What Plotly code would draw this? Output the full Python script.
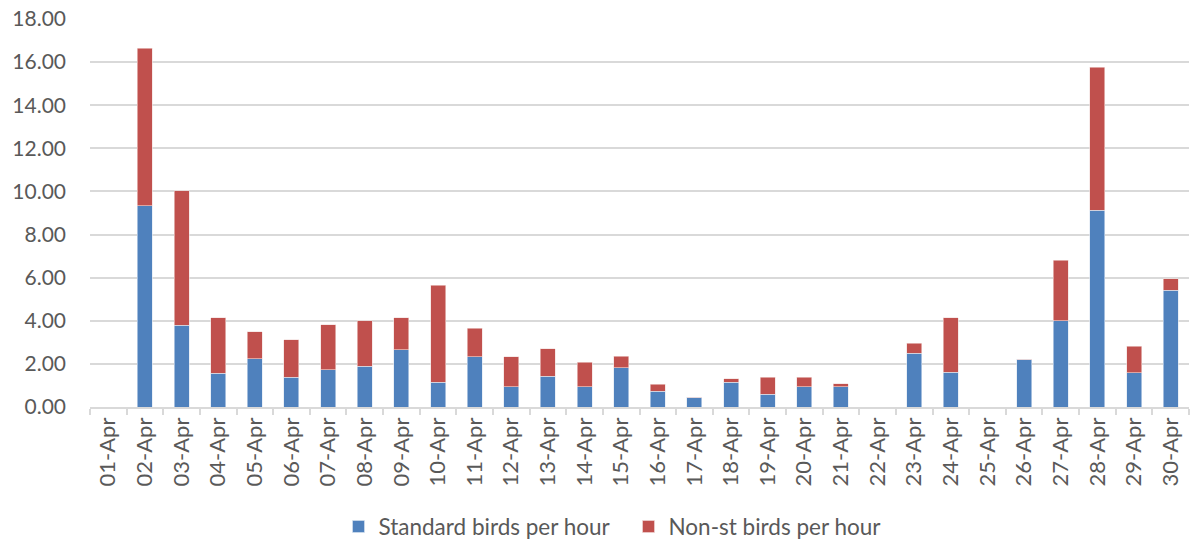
import plotly.graph_objects as go

days = [f"{d:02d}-Apr" for d in range(1, 31)]
standard = [0, 9.33, 3.80, 1.56, 2.24, 1.39, 1.73, 1.88, 2.66, 1.16,
            2.32, 0.93, 1.42, 0.93, 1.81, 0.72, 0.45, 1.16, 0.60, 0.93,
            0.93, 0, 2.50, 1.62, 0, 2.21, 4.00, 9.13, 1.58, 5.42]
totals = [0, 16.64, 10.04, 4.15, 3.48, 3.12, 3.82, 3.99, 4.15, 5.66,
          3.66, 2.33, 2.70, 2.07, 2.36, 1.05, 0.45, 1.31, 1.37, 1.37,
          1.07, 0, 2.95, 4.13, 0, 2.21, 6.81, 15.76, 2.83, 5.96]
nonst = [round(t - s, 2) for t, s in zip(totals, standard)]

font_family = "Lato, 'Open Sans', sans-serif"
grey = "#595959"

fig = go.Figure()
fig.add_bar(x=days, y=standard, name="Standard birds per hour",
            marker=dict(color="#4F81BD", line=dict(color="#dce6f2", width=0.6)))
fig.add_bar(x=days, y=nonst, name="Non-st birds per hour",
            marker=dict(color="#C0504D", line=dict(color="#f2dcdb", width=0.6)))

fig.update_layout(
    barmode="stack",
    bargap=0.59,
    width=1192, height=543,
    margin=dict(l=90, r=3, t=19, b=136, autoexpand=False),
    paper_bgcolor="white", plot_bgcolor="white",
    font=dict(family=font_family, size=21, color=grey),
    showlegend=True,
    legend=dict(orientation="h", x=0.490, xanchor="center", y=-0.309, yanchor="middle",
                font=dict(size=22.5, color=grey), traceorder="normal",
                entrywidth=245),
)
fig.update_yaxes(range=[0, 18], dtick=2, tickformat=".2f", showgrid=True,
                 gridcolor="#d9d9d9", gridwidth=1.5, zeroline=False, showline=False,
                 ticks="", ticklabelstandoff=23, tickfont=dict(size=21, color=grey),
                 automargin=False)
fig.update_xaxes(type="category", tickangle=-90, showline=True, linecolor="#d9d9d9",
                 linewidth=1.5, ticks="outside", tickson="boundaries", ticklen=6,
                 tickcolor="#d9d9d9", tickwidth=1.5, showgrid=False,
                 tickfont=dict(size=22, color=grey), automargin=False)

fig.write_html("out.html", config={"displayModeBar": False},
               post_script="document.body.style.margin='0';")
